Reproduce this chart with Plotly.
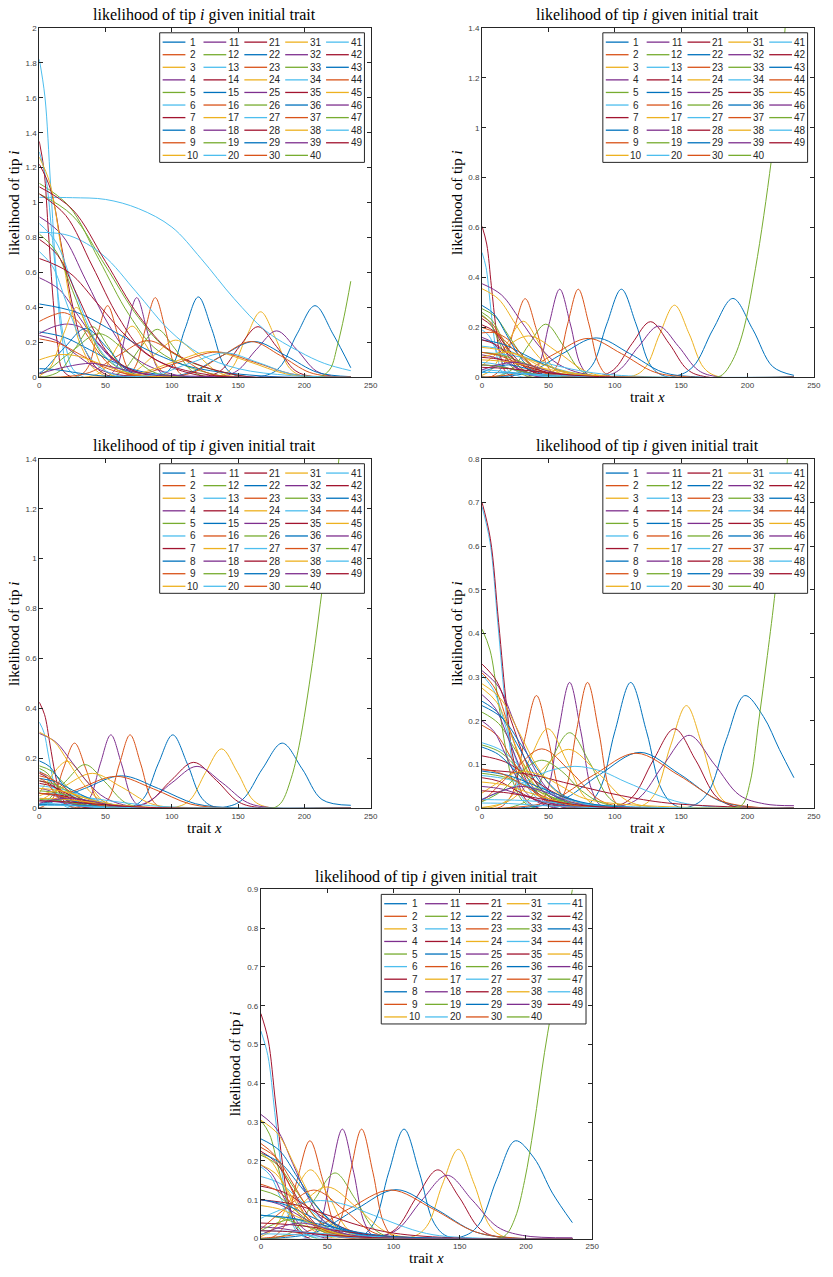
import plotly.graph_objects as go

W, H = 833, 1277
COLORS = ['#0072BD', '#D95319', '#EDB120', '#7E2F8E', '#77AC30', '#4DBEEE', '#A2142F']
TIPS = list(range(1, 50))
X_RANGE = [0, 250]
X_DTICK = 50
Y_MAX = [2.0, 1.4, 1.4, 0.8, 0.9]
Y_DTICK = [0.2, 0.2, 0.2, 0.1, 0.1]
TITLE = 'likelihood of tip <i>i</i> given initial trait'
XLABEL = 'trait <i>x</i>'
YLABEL = 'likelihood of tip <i>i</i>'

# knots (trait x, likelihood), per tip
P1 = {
    1: ([0, 90, 100, 110, 120, 130, 140, 150, 235], [0, .005, .062, .279, .46, .279, .062, .005, 0]),
    2: ([0, 29, 36.5, 44, 51.5, 59, 66.5, 74, 235], [0, .005, .055, .249, .41, .249, .055, .005, 0]),
    3: ([0, 134, 145, 156, 167, 178, 189, 200, 235], [0, .004, .051, .228, .375, .228, .051, .004, 0]),
    4: ([0, 51, 58.5, 66, 73.5, 81, 88.5, 96, 235], [0, .005, .062, .277, .456, .277, .062, .005, 0]),
    5: ([0, 50, 63, 76, 89, 102, 115, 128, 235], [0, .003, .037, .167, .275, .167, .037, .003, 0]),
    6: ([0, 4.25, 8.5, 12.75, 17, 25.5, 235], [1.82, 1.605, 1.105, .592, .246, .02, 0]),
    7: ([0, 123, 137, 151, 165, 179, 193, 207, 235], [0, .003, .039, .176, .29, .176, .039, .003, 0]),
    8: ([0, 167.5, 181, 194.5, 208, 221.5, 235], [0, .005, .055, .249, .41, .249, .055]),
    9: ([0, 65, 72.5, 80, 87.5, 95, 102.5, 110, 235], [0, .005, .062, .277, .456, .277, .062, .005, 0]),
    10: ([0, 37, 48, 59, 70, 81, 92, 103, 235], [0, .003, .04, .178, .293, .178, .04, .003, 0]),
    11: ([0, 134, 149, 164, 179, 194, 209, 224, 235], [0, .003, .036, .161, .266, .161, .036, .003, .001]),
    12: ([0, 22.5, 45, 67.5, 90, 135, 235], [1.11, .979, .674, .361, .15, .012, 0]),
    13: ([0, 25, 50, 75, 100, 122, 147, 171, 196, 215, 235], [1.03, 1.028, 1.018, .965, .86, .68, .45, .265, .148, .08, .038]),
    14: ([0, 3.5, 7, 10.5, 14, 21, 235], [1.35, 1.19, .819, .439, .182, .015, 0]),
    15: ([0, 90, 114, 138, 162, 186, 210, 235], [0, .002, .028, .124, .205, .124, .028, .004]),
    16: ([0, 94, 116, 138, 160, 182, 204, 226, 235], [0, .002, .028, .124, .205, .124, .028, .002, .001]),
    17: ([0, 55, 71, 87, 103, 119, 135, 151, 235], [0, .002, .029, .129, .213, .129, .029, .002, 0]),
    18: ([0, 17.5, 35, 52.5, 70, 105, 235], [.92, .811, .558, .299, .124, .01, 0]),
    19: ([0, 25, 50, 75, 100, 150, 235], [1.05, .926, .637, .341, .142, .012, 0]),
    20: ([0, 5, 10, 15, 20, 30, 235], [1.29, 1.138, .783, .419, .174, .014, 0]),
    21: ([0, 8.5, 17, 25.5, 34, 51, 235], [1.22, 1.076, .741, .397, .165, .013, 0]),
    22: ([0, 29, 58, 87, 116, 174, 235], [.42, .37, .255, .137, .057, .005, 0]),
    23: ([0, 10, 19, 28, 37, 46, 55, 70, 235], [.32, .355, .37, .33, .23, .13, .06, .012, 0]),
    24: ([0, 8, 16, 24, 32, 48, 235], [1.26, 1.111, .765, .41, .17, .014, 0]),
    25: ([0, 15, 30, 45, 60, 90, 235], [.57, .503, .346, .185, .077, .006, 0]),
    26: ([0, 12.5, 25, 37.5, 50, 75, 235], [.82, .723, .498, .267, .111, .009, 0]),
    27: ([0, 23, 48, 73, 98, 122, 150, 190, 235], [.83, .81, .7, .49, .27, .13, .05, .01, 0]),
    28: ([0, 25, 50, 75, 100, 150, 235], [1.09, .961, .662, .354, .147, .012, 0]),
    29: ([0, 19, 38, 57, 76, 114, 235], [.26, .229, .158, .085, .035, .003, 0]),
    30: ([0, 16, 38, 60, 82, 104, 126, 148, 235], [0, .002, .028, .127, .21, .127, .028, .002, 0]),
    31: ([0, 46, 74, 102, 130, 158, 186, 214, 235], [0, .002, .02, .09, .148, .09, .02, .002, 0]),
    32: ([0, 11, 22, 33, 44, 55, 70, 235], [.25, .29, .305, .28, .2, .11, .035, 0]),
    33: ([0, 4, 16, 28, 40, 52, 64, 76, 235], [.001, .003, .039, .176, .29, .176, .039, .003, 0]),
    34: ([0, 12.5, 25, 37.5, 50, 75, 235], [.88, .776, .534, .286, .119, .01, 0]),
    35: ([0, 20, 40, 60, 80, 120, 235], [1.05, .926, .637, .341, .142, .012, 0]),
    36: ([0, 3, 19, 35, 51, 67, 83, 235], [.026, .038, .17, .28, .17, .038, .003, 0]),
    37: ([0, 50, 78, 106, 134, 162, 190, 218, 235], [0, .002, .02, .088, .145, .088, .02, .002, 0]),
    38: ([0, 8, 18, 28, 38, 48, 58, 235], [.008, .054, .243, .40, .243, .054, .004, 0]),
    39: ([0, 12.5, 25, 37.5, 50, 75, 235], [.24, .212, .146, .078, .032, .003, 0]),
    40: ([0, 5, 25, 45, 65, 85, 105, 235], [.02, .034, .152, .25, .152, .034, .003, 0]),
    41: ([0, 10, 20, 30, 40, 60, 235], [.72, .635, .437, .234, .097, .008, 0]),
    42: ([0, 14, 28, 42, 56, 84, 235], [.79, .697, .48, .257, .107, .009, 0]),
    43: ([0, 12.5, 25, 37.5, 50, 75, 235], [.05, .044, .03, .016, .007, .001, 0]),
    44: ([0, 15, 30, 45, 60, 90, 235], [.22, .194, .134, .072, .03, .002, 0]),
    45: ([0, 15, 30, 45, 60, 80, 235], [.1, .13, .12, .08, .04, .01, 0]),
    46: ([0, 20, 40, 60, 80, 235], [.02, .06, .08, .05, .02, 0]),
    47: ([0, 200, 210, 215, 220, 225, 230, 235], [0, 0, .003, .015, .055, .185, .35, .55]),
    48: ([0, 65, 90, 115, 140, 165, 190, 215, 235], [0, .002, .019, .085, .14, .085, .019, .002, 0]),
    49: ([0, 22.5, 45, 67.5, 90, 135, 235], [.68, .6, .413, .221, .092, .007, 0]),
}

P2 = {
    1: ([0, 72, 83, 94, 105, 116, 127, 138, 235], [0, .004, .048, .214, .353, .214, .048, .004, 0]),
    2: ([0, 7, 15.5, 24, 32.5, 41, 49.5, 58, 235], [.001, .003, .043, .191, .315, .191, .043, .003, 0]),
    3: ([0, 112, 123, 134, 145, 156, 167, 178, 235], [0, .003, .039, .175, .289, .175, .039, .003, 0]),
    4: ([0, 34.5, 42.5, 50.5, 58.5, 66.5, 74.5, 82.5, 235], [0, .004, .048, .214, .353, .214, .048, .004, 0]),
    5: ([0, 9, 22, 35, 48, 61, 74, 87, 235], [0, .002, .029, .129, .213, .129, .029, .002, 0]),
    6: ([0, 3, 6, 9, 12, 18, 235], [.5, .441, .304, .163, .068, .006, 0]),
    7: ([0, 85, 99, 113, 127, 141, 155, 169, 235], [0, .002, .03, .135, .223, .135, .03, .002, 0]),
    8: ([0, 144, 159, 174, 189, 204, 219, 235], [0, .003, .043, .192, .316, .192, .043, .008]),
    9: ([0, 48.5, 56.5, 64.5, 72.5, 80.5, 88.5, 96.5, 235], [0, .004, .048, .214, .353, .214, .048, .004, 0]),
    10: ([0, 7, 19, 31, 43, 55, 67, 235], [.008, .03, .137, .225, .137, .03, .002, 0]),
    11: ([0, 88, 103, 118, 133, 148, 163, 178, 235], [0, .002, .028, .124, .205, .124, .028, .002, 0]),
    12: ([0, 10, 20, 30, 40, 60, 235], [.275, .243, .167, .089, .037, .003, 0]),
    13: ([0, 17.5, 35, 52.5, 70, 105, 235], [.125, .11, .076, .041, .017, .001, 0]),
    14: ([0, 3.5, 7, 10.5, 14, 21, 235], [.605, .534, .367, .197, .082, .007, 0]),
    15: ([0, 11, 36, 61, 86, 111, 136, 161, 235], [0, .002, .021, .096, .158, .096, .021, .002, 0]),
    16: ([0, 5, 30, 55, 80, 105, 130, 155, 235], [0, .002, .021, .095, .156, .095, .021, .002, 0]),
    17: ([0, 13, 35, 57, 79, 101, 235], [.047, .101, .166, .101, .022, .002, 0]),
    18: ([0, 14.5, 29, 43.5, 58, 87, 235], [.375, .331, .228, .122, .051, .004, 0]),
    19: ([0, 7.5, 15, 22.5, 30, 45, 235], [.26, .229, .158, .085, .035, .003, 0]),
    20: ([0, 5, 10, 15, 20, 30, 235], [.19, .168, .115, .062, .026, .002, 0]),
    21: ([0, 7, 14, 21, 28, 42, 235], [.235, .207, .143, .076, .032, .003, 0]),
    22: ([0, 9, 18, 27, 36, 54, 235], [.288, .254, .175, .094, .039, .003, 0]),
    23: ([0, 7.5, 15, 22.5, 30, 45, 235], [.245, .216, .149, .08, .033, .003, 0]),
    24: ([0, 12.5, 25, 37.5, 50, 75, 235], [.355, .313, .215, .115, .048, .004, 0]),
    25: ([0, 7.5, 15, 22.5, 30, 45, 235], [.16, .141, .097, .052, .022, .002, 0]),
    26: ([0, 6, 12, 18, 24, 36, 235], [.25, .22, .152, .081, .034, .003, 0]),
    27: ([0, 22.5, 45, 67.5, 90, 135, 235], [.1, .088, .061, .033, .014, .001, 0]),
    28: ([0, 9, 18, 27, 36, 54, 235], [.21, .185, .127, .068, .028, .002, 0]),
    29: ([0, 16, 32, 48, 64, 96, 235], [.15, .132, .091, .049, .02, .002, 0]),
    30: ([0, 11, 22, 33, 44, 66, 235], [.2, .176, .121, .065, .027, .002, 0]),
    31: ([0, 17.5, 35, 52.5, 70, 105, 235], [.12, .106, .073, .039, .016, .001, 0]),
    32: ([0, 10, 20, 30, 40, 60, 235], [.09, .079, .055, .029, .012, .001, 0]),
    33: ([0, 15, 30, 45, 60, 90, 235], [.1, .088, .061, .033, .014, .001, 0]),
    34: ([0, 10, 20, 30, 40, 60, 235], [.06, .053, .036, .02, .008, .001, 0]),
    35: ([0, 10, 20, 30, 40, 60, 235], [.15, .132, .091, .049, .02, .002, 0]),
    36: ([0, 10, 20, 30, 45, 65, 235], [.02, .04, .05, .04, .02, .004, 0]),
    37: ([0, 10, 20, 30, 40, 55, 235], [.178, .178, .15, .09, .04, .008, 0]),
    38: ([0, 10, 20, 30, 40, 55, 235], [.08, .095, .1, .085, .055, .02, 0]),
    39: ([0, 12.5, 25, 37.5, 50, 75, 235], [.05, .044, .03, .016, .007, .001, 0]),
    40: ([0, 12.5, 25, 37.5, 50, 75, 235], [.05, .044, .03, .016, .007, .001, 0]),
    41: ([0, 12.5, 25, 37.5, 50, 75, 235], [.03, .026, .018, .01, .004, 0, 0]),
    42: ([0, 15, 30, 45, 60, 90, 235], [.08, .071, .049, .026, .011, .001, 0]),
    43: ([0, 20, 40, 60, 80, 120, 235], [.02, .018, .012, .007, .003, 0, 0]),
    44: ([0, 12.5, 25, 37.5, 50, 75, 235], [.1, .088, .061, .033, .014, .001, 0]),
    45: ([0, 20, 40, 60, 80, 120, 235], [.07, .062, .042, .023, .009, .001, 0]),
    46: ([0, 12, 25, 38, 50, 70, 235], [.03, .05, .06, .045, .025, .005, 0]),
    47: ([0, 175, 181, 188, 196, 206, 218, 226, 235], [0, 0, .01, .06, .17, .435, .87, 1.25, 1.9]),
    48: ([0, 20, 40, 60, 80, 120, 235], [.02, .018, .012, .007, .003, 0, 0]),
    49: ([0, 20, 40, 60, 80, 120, 235], [.04, .035, .024, .013, .005, 0, 0]),
}

P3 = {
    1: ([0, 67.7, 78.7, 89.7, 100.7, 111.7, 122.7, 133.7, 235], [0, .003, .04, .178, .294, .178, .04, .003, 0]),
    2: ([0, 1, 9.6, 18.1, 26.6, 35.1, 43.6, 52.1, 235], [.002, .003, .035, .158, .261, .158, .035, .003, 0]),
    3: ([0, 101.5, 113.5, 125.5, 137.5, 149.5, 161.5, 173.5, 235], [0, .003, .032, .144, .238, .144, .032, .003, 0]),
    4: ([0, 30, 38, 46, 54, 62, 70, 78, 235], [0, .003, .04, .178, .294, .178, .04, .003, 0]),
    5: ([0, 4.5, 19.5, 34.5, 49.5, 64.5, 79.5, 235], [.012, .024, .106, .175, .106, .024, .002, 0]),
    6: ([0, 3.5, 7, 10.5, 14, 21, 235], [.345, .304, .209, .112, .047, .004, 0]),
    7: ([0, 65.5, 82.5, 99.5, 116.5, 133.5, 150.5, 167.5, 235], [0, .002, .025, .112, .184, .112, .025, .002, 0]),
    8: ([0, 138.3, 153.3, 168.3, 183.3, 198.3, 213.3, 235], [0, .003, .035, .158, .261, .158, .035, .012]),
    9: ([0, 44.5, 52.5, 60.5, 68.5, 76.5, 84.5, 92.5, 235], [0, .003, .04, .178, .294, .178, .04, .003, 0]),
    10: ([0, 7, 21, 35, 49, 63, 235], [.062, .114, .188, .114, .025, .002, 0]),
    11: ([0, 62, 81, 100, 119, 138, 157, 176, 235], [0, .002, .023, .102, .168, .102, .023, .002, 0]),
    12: ([0, 9, 18, 27, 36, 54, 235], [.17, .15, .103, .055, .023, .002, 0]),
    13: ([0, 15, 30, 45, 60, 90, 235], [.09, .079, .055, .029, .012, .001, 0]),
    14: ([0, 4, 8, 12, 16, 24, 235], [.425, .375, .258, .138, .057, .005, 0]),
    15: ([0, 6, 34, 62, 90, 118, 146, 174, 235], [.011, .018, .079, .13, .079, .018, .002, 0, 0]),
    16: ([0, 2, 30, 58, 86, 114, 142, 170, 235], [.015, .017, .078, .128, .078, .017, .001, 0, 0]),
    17: ([0, 18, 40, 62, 84, 106, 235], [.028, .085, .14, .085, .019, .002, 0]),
    18: ([0, 12.5, 25, 37.5, 50, 75, 235], [.3, .265, .182, .098, .041, .003, 0]),
    19: ([0, 6, 12, 18, 24, 36, 235], [.16, .141, .097, .052, .022, .002, 0]),
    20: ([0, 4.5, 9, 13.5, 18, 27, 235], [.15, .132, .091, .049, .02, .002, 0]),
    21: ([0, 6, 12, 18, 24, 36, 235], [.14, .123, .085, .046, .019, .002, 0]),
    22: ([0, 7.5, 15, 22.5, 30, 45, 235], [.19, .168, .115, .062, .026, .002, 0]),
    23: ([0, 7, 14, 21, 28, 42, 235], [.145, .128, .088, .047, .02, .002, 0]),
    24: ([0, 11, 22, 33, 44, 66, 235], [.305, .269, .185, .099, .041, .003, 0]),
    25: ([0, 7.5, 15, 22.5, 30, 45, 235], [.08, .071, .049, .026, .011, .001, 0]),
    26: ([0, 11, 22, 33, 44, 66, 235], [.11, .097, .067, .036, .015, .001, 0]),
    27: ([0, 22.5, 45, 67.5, 90, 135, 235], [.06, .053, .036, .02, .008, .001, 0]),
    28: ([0, 8, 16, 24, 32, 48, 235], [.11, .097, .067, .036, .015, .001, 0]),
    29: ([0, 12.5, 25, 37.5, 50, 75, 235], [.12, .106, .073, .039, .016, .001, 0]),
    30: ([0, 10, 20, 30, 40, 60, 235], [.13, .115, .079, .042, .018, .001, 0]),
    31: ([0, 15, 30, 45, 60, 90, 235], [.08, .071, .049, .026, .011, .001, 0]),
    32: ([0, 10, 20, 30, 40, 60, 235], [.06, .053, .036, .02, .008, .001, 0]),
    33: ([0, 14, 28, 42, 56, 84, 235], [.07, .062, .042, .023, .009, .001, 0]),
    34: ([0, 10, 20, 30, 40, 60, 235], [.04, .035, .024, .013, .005, 0, 0]),
    35: ([0, 10, 20, 30, 40, 60, 235], [.1, .088, .061, .033, .014, .001, 0]),
    36: ([0, 9, 18, 27, 40, 60, 235], [.015, .028, .035, .028, .014, .003, 0]),
    37: ([0, 5, 10, 15, 20, 30, 235], [.12, .106, .073, .039, .016, .001, 0]),
    38: ([0, 8, 15, 25, 35, 50, 235], [.05, .065, .07, .06, .04, .015, 0]),
    39: ([0, 12.5, 25, 37.5, 50, 75, 235], [.03, .026, .018, .01, .004, 0, 0]),
    40: ([0, 12.5, 25, 37.5, 50, 75, 235], [.035, .031, .021, .011, .005, 0, 0]),
    41: ([0, 12.5, 25, 37.5, 50, 75, 235], [.02, .018, .012, .007, .003, 0, 0]),
    42: ([0, 15, 30, 45, 60, 90, 235], [.06, .053, .036, .02, .008, .001, 0]),
    43: ([0, 20, 40, 60, 80, 120, 235], [.015, .013, .009, .005, .002, 0, 0]),
    44: ([0, 12.5, 25, 37.5, 50, 75, 235], [.06, .053, .036, .02, .008, .001, 0]),
    45: ([0, 20, 40, 60, 80, 120, 235], [.04, .035, .024, .013, .005, 0, 0]),
    46: ([0, 12, 25, 38, 50, 70, 235], [.02, .035, .04, .03, .017, .004, 0]),
    47: ([0, 172, 178, 183, 190, 196, 206, 214, 224, 235], [0, 0, .004, .026, .12, .25, .58, .9, 1.3, 1.9]),
    48: ([0, 20, 40, 60, 80, 120, 235], [.012, .011, .007, .004, .002, 0, 0]),
    49: ([0, 20, 40, 60, 80, 120, 235], [.03, .026, .018, .01, .004, 0, 0]),
}

P4 = {
    1: ([0, 76, 88, 100, 112, 124, 136, 148, 235], [0, .003, .039, .175, .288, .175, .039, .003, 0]),
    2: ([0, 14, 23, 32, 41, 50, 59, 68, 235], [0, .003, .035, .157, .258, .157, .035, .003, 0]),
    3: ([0, 118, 130, 142, 154, 166, 178, 190, 235], [0, .003, .032, .143, .235, .143, .032, .003, 0]),
    4: ([0, 40.5, 49, 57.5, 66, 74.5, 83, 91.5, 235], [0, .003, .039, .175, .288, .175, .039, .003, 0]),
    5: ([0, 21, 36, 51, 66, 81, 96, 111, 235], [0, .002, .023, .105, .173, .105, .023, .002, 0]),
    6: ([0, 6, 12, 18, 24, 36, 235], [.69, .609, .419, .224, .093, .008, 0]),
    7: ([0, 97, 113, 129, 145, 161, 177, 193, 235], [0, .002, .025, .11, .182, .11, .025, .002, 0]),
    8: ([0, 156, 170, 184, 198, 212, 224, 235], [0, .003, .035, .157, .258, .21, .135, .07]),
    9: ([0, 54, 62.5, 71, 79.5, 88, 96.5, 105, 235], [0, .003, .039, .175, .288, .175, .039, .003, 0]),
    10: ([0, 7.5, 21.5, 35.5, 49.5, 63.5, 77.5, 91.5, 235], [0, .002, .025, .11, .182, .11, .025, .002, 0]),
    11: ([0, 99, 118, 137, 156, 175, 194, 213, 235], [0, .002, .023, .101, .167, .101, .03, .01, .006]),
    12: ([0, 6, 12, 18, 24, 36, 235], [.41, .362, .249, .133, .055, .005, 0]),
    13: ([0, 15, 30, 45, 60, 90, 235], [.15, .132, .091, .049, .02, .002, 0]),
    14: ([0, 6.25, 12.5, 18.75, 25, 37.5, 235], [.7, .617, .425, .228, .095, .008, 0]),
    15: ([0, 29, 59, 89, 119, 149, 179, 209, 235], [0, .001, .017, .078, .128, .078, .017, .001, 0]),
    16: ([0, 20, 52, 84, 116, 148, 180, 212, 235], [0, .001, .017, .076, .126, .076, .017, .001, 0]),
    17: ([0, 21, 43, 65, 87, 109, 131, 235], [.002, .018, .082, .135, .082, .018, .002, 0]),
    18: ([0, 12.5, 25, 37.5, 50, 75, 235], [.315, .278, .191, .102, .043, .003, 0]),
    19: ([0, 12.5, 25, 37.5, 50, 75, 235], [.22, .194, .134, .072, .03, .002, 0]),
    20: ([0, 9, 18, 27, 36, 54, 235], [.305, .269, .185, .099, .041, .003, 0]),
    21: ([0, 11, 22, 33, 44, 66, 235], [.33, .291, .2, .107, .045, .004, 0]),
    22: ([0, 13, 26, 39, 52, 78, 235], [.245, .216, .149, .08, .033, .003, 0]),
    23: ([0, 10, 20, 30, 40, 60, 235], [.31, .273, .188, .101, .042, .003, 0]),
    24: ([0, 14, 28, 42, 56, 84, 235], [.285, .251, .173, .093, .038, .003, 0]),
    25: ([0, 10, 20, 30, 40, 60, 235], [.26, .229, .158, .085, .035, .003, 0]),
    26: ([0, 14, 28, 42, 56, 84, 235], [.145, .128, .088, .047, .02, .002, 0]),
    27: ([0, 30, 50, 70, 90, 110, 150, 190, 235], [.021, .058, .085, .096, .085, .058, .013, .001, 0]),
    28: ([0, 17.5, 35, 52.5, 70, 105, 235], [.12, .106, .073, .039, .016, .001, 0]),
    29: ([0, 15, 30, 45, 60, 90, 235], [.235, .207, .143, .076, .032, .003, 0]),
    30: ([0, 11, 22, 33, 44, 66, 235], [.19, .168, .115, .062, .026, .002, 0]),
    31: ([0, 11, 22, 33, 44, 66, 235], [.275, .243, .167, .089, .037, .003, 0]),
    32: ([0, 9, 18, 27, 36, 54, 235], [.2, .176, .121, .065, .027, .002, 0]),
    33: ([0, 17.5, 35, 52.5, 70, 105, 235], [.08, .071, .049, .026, .011, .001, 0]),
    34: ([0, 20, 40, 60, 80, 120, 235], [.075, .066, .046, .024, .01, .001, 0]),
    35: ([0, 35, 70, 105, 140, 210, 235], [.088, .078, .053, .029, .012, .001, 0]),
    36: ([0, 12.5, 25, 37.5, 50, 75, 235], [.14, .123, .085, .046, .019, .002, 0]),
    37: ([0, 1, 23, 45, 67, 89, 111, 235], [.017, .018, .083, .136, .083, .018, .002, 0]),
    38: ([0, 10, 20, 30, 45, 60, 80, 235], [.035, .055, .075, .085, .075, .05, .02, 0]),
    39: ([0, 15, 30, 45, 60, 90, 235], [.05, .044, .03, .016, .007, .001, 0]),
    40: ([0, 15, 30, 45, 60, 75, 95, 235], [.015, .04, .085, .11, .085, .04, .008, 0]),
    41: ([0, 30, 60, 90, 120, 180, 235], [.02, .018, .012, .007, .003, 0, 0]),
    42: ([0, 12.5, 25, 37.5, 50, 75, 235], [.07, .062, .042, .023, .009, .001, 0]),
    43: ([0, 20, 40, 60, 80, 120, 235], [.085, .075, .052, .028, .011, .001, 0]),
    44: ([0, 15, 30, 45, 60, 90, 235], [.09, .079, .055, .029, .012, .001, 0]),
    45: ([0, 17.5, 35, 52.5, 70, 105, 235], [.06, .053, .036, .02, .008, .001, 0]),
    46: ([0, 15, 30, 45, 60, 80, 235], [.02, .04, .05, .04, .022, .006, 0]),
    47: ([0, 188, 196, 202, 208.5, 215, 221, 228, 235], [0, .001, .008, .06, .2, .35, .5, .72, 1.0]),
    48: ([0, 20, 40, 60, 80, 120, 235], [.012, .011, .007, .004, .002, 0, 0]),
    49: ([0, 20, 40, 60, 80, 120, 235], [.04, .035, .024, .013, .005, 0, 0]),
}

P5 = {
    1: ([0, 73.5, 85, 96.5, 108, 119.5, 131, 142.5, 235], [0, .003, .038, .171, .282, .171, .038, .003, 0]),
    2: ([0, 8.5, 18, 27.5, 37, 46.5, 56, 65.5, 235], [.001, .003, .034, .153, .252, .153, .034, .003, 0]),
    3: ([0, 113, 125, 137, 149, 161, 173, 185, 235], [0, .003, .031, .14, .23, .14, .031, .003, 0]),
    4: ([0, 36, 44.5, 53, 61.5, 70, 78.5, 87, 235], [0, .003, .038, .171, .282, .171, .038, .003, 0]),
    5: ([0, 11, 26, 41, 56, 71, 86, 101, 235], [0, .002, .023, .103, .169, .103, .023, .002, 0]),
    6: ([0, 5.25, 10.5, 15.75, 21, 31.5, 235], [.535, .472, .325, .174, .072, .006, 0]),
    7: ([0, 85.5, 101.5, 117.5, 133.5, 149.5, 165.5, 181.5, 235], [0, .002, .024, .107, .177, .107, .024, .002, 0]),
    8: ([0, 150, 164, 178, 192, 206, 220, 235], [0, .003, .034, .153, .252, .208, .117, .041]),
    9: ([0, 50.5, 59, 67.5, 76, 84.5, 93, 101.5, 235], [0, .003, .038, .171, .282, .171, .038, .003, 0]),
    10: ([0, 9.5, 23.5, 37.5, 51.5, 65.5, 79.5, 235], [.005, .024, .107, .177, .107, .024, .002, 0]),
    11: ([0, 83.5, 102.5, 121.5, 140.5, 159.5, 178.5, 197.5, 235], [0, .002, .022, .099, .163, .099, .03, .008, .002]),
    12: ([0, 6.5, 13, 19.5, 26, 39, 235], [.305, .269, .185, .099, .041, .003, 0]),
    13: ([0, 15, 30, 45, 60, 90, 235], [.16, .141, .097, .052, .022, .002, 0]),
    14: ([0, 5.5, 11, 16.5, 22, 33, 235], [.58, .512, .352, .189, .078, .006, 0]),
    15: ([0, 12, 42, 72, 102, 132, 162, 192, 235], [0, .001, .017, .076, .126, .076, .017, .001, 0]),
    16: ([0, 2, 34, 66, 98, 130, 162, 194, 235], [0, .001, .017, .076, .125, .076, .017, .001, 0]),
    17: ([0, 6, 28, 50, 72, 94, 116, 235], [.011, .018, .081, .133, .081, .018, .001, 0]),
    18: ([0, 12, 24, 36, 48, 72, 235], [.32, .282, .194, .104, .043, .004, 0]),
    19: ([0, 12.5, 25, 37.5, 50, 75, 235], [.215, .19, .131, .07, .029, .002, 0]),
    20: ([0, 7, 14, 21, 28, 42, 235], [.185, .163, .112, .06, .025, .002, 0]),
    21: ([0, 11, 22, 33, 44, 66, 235], [.225, .198, .137, .073, .03, .002, 0]),
    22: ([0, 14, 28, 42, 56, 84, 235], [.257, .227, .156, .084, .035, .003, 0]),
    23: ([0, 10, 20, 30, 40, 60, 235], [.245, .216, .149, .08, .033, .003, 0]),
    24: ([0, 13, 26, 39, 52, 78, 235], [.305, .269, .185, .099, .041, .003, 0]),
    25: ([0, 8, 16, 24, 32, 48, 235], [.19, .168, .115, .062, .026, .002, 0]),
    26: ([0, 12.5, 25, 37.5, 50, 75, 235], [.125, .11, .076, .041, .017, .001, 0]),
    27: ([0, 5, 25, 45, 65, 85, 125, 165, 235], [.052, .06, .086, .098, .086, .06, .013, .001, 0]),
    28: ([0, 17.5, 35, 52.5, 70, 105, 235], [.135, .119, .082, .044, .018, .001, 0]),
    29: ([0, 15, 30, 45, 60, 90, 235], [.22, .194, .134, .072, .03, .002, 0]),
    30: ([0, 12, 24, 36, 48, 72, 235], [.235, .207, .143, .076, .032, .003, 0]),
    31: ([0, 9, 18, 27, 36, 54, 235], [.22, .194, .134, .072, .03, .002, 0]),
    32: ([0, 14, 28, 42, 56, 84, 235], [.1, .088, .061, .033, .014, .001, 0]),
    33: ([0, 15, 30, 45, 60, 90, 235], [.06, .053, .036, .02, .008, .001, 0]),
    34: ([0, 20, 40, 60, 80, 120, 235], [.06, .053, .036, .02, .008, .001, 0]),
    35: ([0, 25, 50, 75, 100, 150, 235], [.1, .088, .061, .033, .014, .001, 0]),
    36: ([0, 17.5, 35, 52.5, 70, 105, 235], [.1, .088, .061, .033, .014, .001, 0]),
    37: ([0, 18, 40, 62, 84, 106, 235], [.024, .076, .125, .076, .017, .001, 0]),
    38: ([0, 11, 22, 33, 44, 66, 235], [.19, .168, .115, .062, .026, .002, 0]),
    39: ([0, 15, 30, 45, 60, 90, 235], [.03, .026, .018, .01, .004, 0, 0]),
    40: ([0, 12, 25, 38, 50, 70, 235], [.02, .04, .05, .04, .022, .005, 0]),
    41: ([0, 25, 50, 75, 100, 150, 235], [.02, .018, .012, .007, .003, 0, 0]),
    42: ([0, 25, 50, 75, 100, 150, 235], [.04, .035, .024, .013, .005, 0, 0]),
    43: ([0, 22.5, 45, 67.5, 90, 135, 235], [.06, .053, .036, .02, .008, .001, 0]),
    44: ([0, 12.5, 25, 37.5, 50, 75, 235], [.14, .123, .085, .046, .019, .002, 0]),
    45: ([0, 15, 30, 45, 60, 90, 235], [.085, .075, .052, .028, .011, .001, 0]),
    46: ([0, 15, 30, 45, 60, 80, 235], [.01, .03, .04, .03, .015, .004, 0]),
    47: ([0, 178, 185, 192, 199, 206, 214, 224, 235], [0, 0, .01, .055, .15, .29, .48, .68, .9]),
    48: ([0, 20, 40, 60, 80, 120, 235], [.012, .011, .007, .004, .002, 0, 0]),
    49: ([0, 20, 40, 60, 80, 120, 235], [.02, .018, .012, .007, .003, 0, 0]),
}

PANELS = [P1, P2, P3, P4, P5]

# ---------------- layout (pixel geometry of each plot area) ----------------
BOXES = [(37.7, 372.7, 24, 376), (485.3, 820.7, 24, 376),
         (37.7, 372.7, 458, 810), (485.3, 820.7, 458, 810),
         (261.7, 596.7, 891.7, 1243.3)]
SERIF = 'Liberation Serif, Times New Roman, serif'
SANS = 'Liberation Sans, Arial, Helvetica, sans-serif'
AX = '#262626'
LEG_W, LEG_H = 207, 130.5
COL_PITCH, ROW_PITCH = 41.3, 12.67


def fx(p):
    return p / W


def fy(p):
    return 1 - p / H


fig = go.Figure()
layout = dict(width=W, height=H, margin=dict(l=0, r=0, t=0, b=0),
              paper_bgcolor='white', plot_bgcolor='white', showlegend=False)
shapes, annotations = [], []

for k, panel in enumerate(PANELS):
    sfx = '' if k == 0 else str(k + 1)
    L, R, T, B = BOXES[k]
    for tip in TIPS:
        xs, ys = panel[tip]
        fig.add_trace(go.Scatter(
            x=xs, y=ys, mode='lines', name=str(tip),
            line=dict(color=COLORS[(tip - 1) % 7], width=1, shape='spline', smoothing=1.0),
            xaxis='x' + sfx, yaxis='y' + sfx, hoverinfo='skip'))
    common = dict(showline=True, linecolor=AX, linewidth=1, mirror='ticks',
                  ticks='inside', ticklen=4, tickcolor=AX, tickwidth=1,
                  showgrid=False, zeroline=False,
                  tickfont=dict(family=SANS, size=8, color='#404040'))
    layout['xaxis' + sfx] = dict(domain=[fx(L), fx(R)], anchor='y' + sfx,
                                 range=X_RANGE, dtick=X_DTICK, tick0=0, **common)
    layout['yaxis' + sfx] = dict(domain=[fy(B), fy(T)], anchor='x' + sfx,
                                 range=[0, Y_MAX[k]], dtick=Y_DTICK[k], tick0=0, **common)

    annotations.append(dict(text=TITLE, x=fx((L + R) / 2), y=fy(T - 12.5), xref='paper', yref='paper',
                            xanchor='center', yanchor='middle', showarrow=False,
                            font=dict(family=SERIF, size=16, color='black')))
    annotations.append(dict(text=XLABEL, x=fx((L + R) / 2), y=fy(B + 20), xref='paper', yref='paper',
                            xanchor='center', yanchor='middle', showarrow=False,
                            font=dict(family=SERIF, size=15, color='black')))
    annotations.append(dict(text=YLABEL, x=fx(L - 26), y=fy((T + B) / 2), xref='paper', yref='paper',
                            xanchor='center', yanchor='middle', showarrow=False, textangle=-90,
                            font=dict(family=SERIF, size=15, color='black')))

    # legend box
    lb = R - 6.3 - LEG_W
    lt = T + 5
    shapes.append(dict(type='rect', xref='paper', yref='paper', layer='above',
                       x0=fx(lb), x1=fx(lb + LEG_W), y0=fy(lt + LEG_H), y1=fy(lt),
                       line=dict(color=AX, width=1), fillcolor='white'))
    for tip in TIPS:
        col, row = (tip - 1) // 10, (tip - 1) % 10
        sx = lb + 3 + col * COL_PITCH
        sy = lt + 9.4 + row * ROW_PITCH
        shapes.append(dict(type='line', xref='paper', yref='paper', layer='above',
                           x0=fx(sx), x1=fx(sx + 23), y0=fy(sy), y1=fy(sy),
                           line=dict(color=COLORS[(tip - 1) % 7], width=1.3)))
        annotations.append(dict(text=str(tip), x=fx(sx + 31), y=fy(sy), xref='paper', yref='paper',
                                xanchor='center', yanchor='middle', showarrow=False,
                                font=dict(family=SANS, size=10, color=AX)))

layout['shapes'] = shapes
layout['annotations'] = annotations
fig.update_layout(**layout)
fig.write_html('out.html')
